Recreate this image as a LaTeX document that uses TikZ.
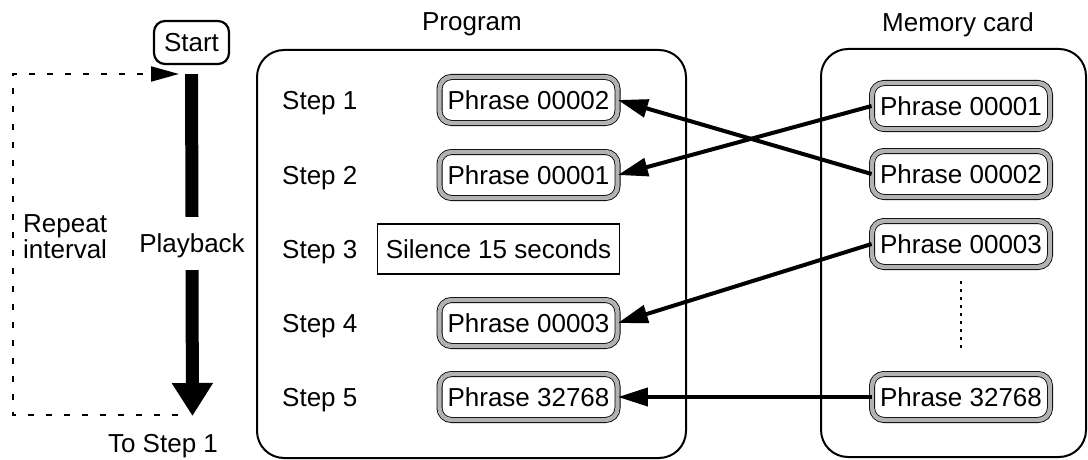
\documentclass[tikz,border=0pt]{standalone}
\usepackage{fontspec}
\setmainfont{Liberation Sans}
\usetikzlibrary{arrows.meta}
\begin{document}
\begin{tikzpicture}[x=1pt,y=-1pt,
  font=\fontsize{26}{26}\selectfont,
  txt/.style={text height=18.6pt,text depth=0pt,inner sep=0pt},
  phrase/.style={txt,draw=black,line width=0.8pt,double=gray!60,double distance=4.4pt,
    rounded corners=12pt,minimum width=178pt,minimum height=46pt},
  container/.style={draw,line width=2pt,rounded corners=27pt},
  startbox/.style={txt,draw,line width=2.2pt,rounded corners=11pt,minimum width=75pt,minimum height=43pt},
  silencebox/.style={txt,draw,line width=1.6pt,minimum width=242pt,minimum height=50pt},
  flow/.style={line width=4pt,-{Triangle[length=30pt,width=18pt]}},
  playflow/.style={line width=13pt},
  loopline/.style={line width=2pt,dash pattern=on 6pt off 12pt}
]
\useasboundingbox (0,0) rectangle (1088,460);

% titles
\node[txt] (tprog) at (472,21) {Program};
\node[txt] (tmem) at (958,22) {Memory card};

% containers
\node[container,minimum width=429pt,minimum height=408pt] (progbox) at (471.5,254) {};
\node[container,minimum width=265pt,minimum height=408pt] (membox) at (953.5,253) {};

% start and playback
\node[startbox] (start) at (191.5,42.5) {Start};
\node[txt,minimum height=53pt] (play) at (192,243.5) {Playback};
\coordinate (playtip) at (192.5,416);
\draw[playflow] ([yshift=-9pt]start.south) -- (play.north);
\draw[playflow,-{Triangle[length=33pt,width=39pt]}] (play.south) -- (playtip);

% repeat loop
\coordinate (loopA) at (178,415);
\coordinate (loopB) at (13,415);
\coordinate (loopC) at (13,74);
\coordinate (loopD) at (179,74);
\draw[loopline,-{Triangle[length=28pt,width=15pt]}] (loopA) -- (loopB) -- (loopC) -- (loopD);
\node[anchor=north west,align=left,inner sep=0pt] (rep) at (23,214) {Repeat\\interval};
\node[txt] (tostep) at (163,443) {To Step 1};

% program steps
\node[txt,anchor=west] (s1) at (282,100) {Step 1};
\node[txt,anchor=west] (s2) at (282,175) {Step 2};
\node[txt,anchor=west] (s3) at (282,249) {Step 3};
\node[txt,anchor=west] (s4) at (282,323) {Step 4};
\node[txt,anchor=west] (s5) at (282,397) {Step 5};

\node[phrase] (p1) at (528.5,100) {Phrase 00002};
\node[phrase] (p2) at (528.5,175) {Phrase 00001};
\node[silencebox] (p3) at (498.5,249) {Silence 15 seconds};
\node[phrase] (p4) at (528.5,323) {Phrase 00003};
\node[phrase] (p5) at (528.5,397) {Phrase 32768};

% memory card
\node[phrase] (m1) at (961,106) {Phrase 00001};
\node[phrase] (m2) at (961,174) {Phrase 00002};
\node[phrase] (m3) at (961,244) {Phrase 00003};
\node[phrase] (m5) at (961,397) {Phrase 32768};
\draw[line width=1.5pt,dash pattern=on 3pt off 5pt] ([yshift=-14pt]m3.south) -- ([yshift=22pt]m5.north);

% connectors
\draw[flow] (m2.west) -- (p1.east);
\draw[flow] (m1.west) -- (p2.east);
\draw[flow] (m3.west) -- (p4.east);
\draw[flow] (m5.west) -- (p5.east);
\end{tikzpicture}
\end{document}
